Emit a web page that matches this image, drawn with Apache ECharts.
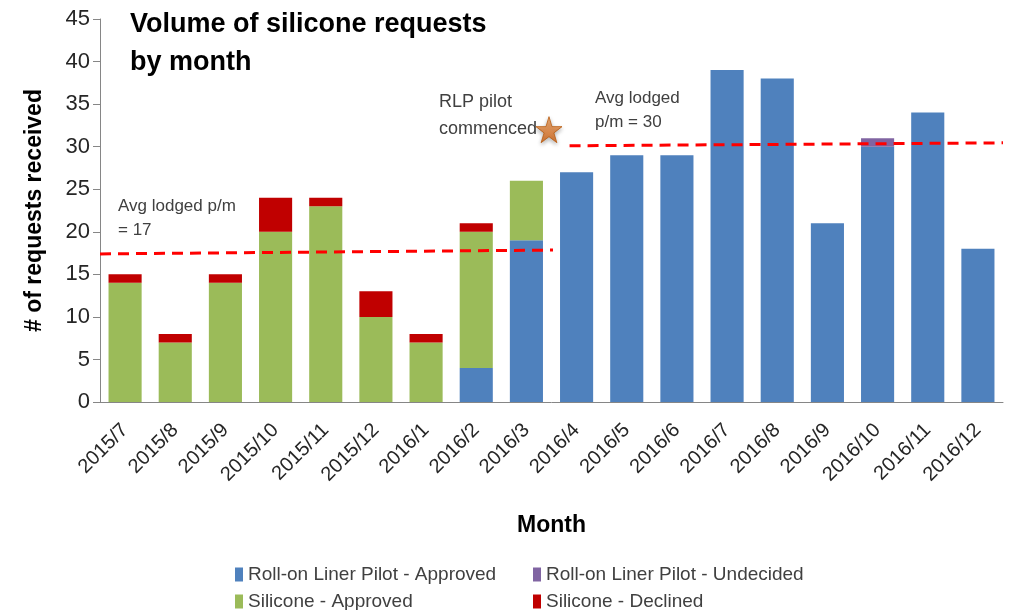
<!DOCTYPE html>
<html>
<head>
<meta charset="utf-8">
<script src="https://cdn.jsdelivr.net/npm/echarts@6/dist/echarts.min.js"></script>
<style>
  html, body { margin: 0; padding: 0; background: #fff; }
  #chart { width: 1009px; height: 610px; }
</style>
</head>
<body>
<div id="chart"></div>
<script>
// 数据
var months = ['2015/7', '2015/8', '2015/9', '2015/10', '2015/11', '2015/12', '2016/1', '2016/2', '2016/3',
    '2016/4', '2016/5', '2016/6', '2016/7', '2016/8', '2016/9', '2016/10', '2016/11', '2016/12'];
var rlpApproved = [0, 0, 0, 0, 0, 0, 0, 4, 19, 27, 29, 29, 39, 38, 21, 30, 34, 18];
var rlpUndecided = [0, 0, 0, 0, 0, 0, 0, 0, 0, 0, 0, 0, 0, 0, 0, 1, 0, 0];
var siliconeApproved = [14, 7, 14, 20, 23, 10, 7, 16, 7, 0, 0, 0, 0, 0, 0, 0, 0, 0];
var siliconeDeclined = [1, 1, 1, 4, 1, 3, 1, 1, 0, 0, 0, 0, 0, 0, 0, 0, 0, 0];
// 平均线 (x 以月份序号计)
var avgBefore = [[0, 17.4], [9.03, 17.85]];
var avgAfter = [[9.36, 30.1], [18, 30.45]];
var pilotStar = [[8.95, 32]];

(function () {
    var myChart = echarts.init(document.getElementById('chart'));
    var font = 'Liberation Sans, Arial, sans-serif';
    var starPath = 'path://M50,0 L61,35 L98,35 L68,57 L79,91 L50,70 L21,91 L32,57 L2,35 L39,35 Z';

    function legendItem(name, left, top) {
        return {
            data: [name],
            left: left,
            top: top,
            icon: 'rect',
            itemWidth: 8,
            itemHeight: 14,
            selectedMode: false,
            textStyle: { fontFamily: font, fontSize: 19, color: '#404040' }
        };
    }

    var option = {
        animation: false,
        color: ['#4F81BD', '#8064A2', '#9BBB59', '#C00000'],
        textStyle: { fontFamily: font },
        grid: {
            left: 100,
            right: 6,
            top: 19,
            bottom: 208
        },
        legend: [
            legendItem('Roll-on Liner Pilot - Approved', 230, 560),
            legendItem('Roll-on Liner Pilot - Undecided', 528, 560),
            legendItem('Silicone - Approved', 230, 587),
            legendItem('Silicone - Declined', 528, 587)
        ],
        xAxis: [
            {
                type: 'category',
                data: months,
                name: 'Month',
                nameLocation: 'middle',
                nameGap: 112,
                nameTextStyle: { fontFamily: font, fontSize: 23, fontWeight: 'bold', color: '#000' },
                axisLine: { lineStyle: { color: '#868686' } },
                axisTick: { length: 7, lineStyle: { color: '#868686' } },
                axisLabel: {
                    rotate: 45,
                    margin: 25,
                    fontFamily: font,
                    fontSize: 20,
                    color: '#262626'
                }
            },
            {
                // 辅助轴: 画平均线和星标
                type: 'value',
                min: 0,
                max: 18,
                show: false
            }
        ],
        yAxis: {
            type: 'value',
            min: 0,
            max: 45,
            interval: 5,
            name: '# of requests received',
            nameLocation: 'middle',
            nameGap: 54,
            nameTextStyle: { fontFamily: font, fontSize: 23, fontWeight: 'bold', color: '#000' },
            axisLine: { show: true, lineStyle: { color: '#868686' } },
            axisTick: { show: true, length: 7, lineStyle: { color: '#868686' } },
            splitLine: { show: false },
            axisLabel: { fontFamily: font, fontSize: 22, color: '#262626', margin: 10 }
        },
        graphic: [
            {
                type: 'text', left: 130, top: 6,
                style: {
                    text: 'Volume of silicone requests\nby month',
                    font: 'bold 27px ' + font,
                    lineHeight: 38,
                    fill: '#000'
                }
            },
            {
                type: 'text', left: 118, top: 194,
                style: { text: 'Avg lodged p/m\n= 17', font: '17px ' + font, lineHeight: 24, fill: '#404040' }
            },
            {
                type: 'text', right: 1009 - 537, top: 89,
                style: { text: 'RLP pilot\ncommenced', font: '18px ' + font, lineHeight: 27, fill: '#404040', align: 'right' }
            },
            {
                type: 'text', left: 595, top: 86,
                style: { text: 'Avg lodged\np/m = 30', font: '17px ' + font, lineHeight: 24, fill: '#404040' }
            }
        ],
        series: [
            {
                name: 'Roll-on Liner Pilot - Approved',
                type: 'bar',
                stack: 'total',
                barCategoryGap: '34%',
                data: rlpApproved
            },
            {
                name: 'Roll-on Liner Pilot - Undecided',
                type: 'bar',
                stack: 'total',
                data: rlpUndecided
            },
            {
                name: 'Silicone - Approved',
                type: 'bar',
                stack: 'total',
                data: siliconeApproved
            },
            {
                name: 'Silicone - Declined',
                type: 'bar',
                stack: 'total',
                data: siliconeDeclined
            },
            {
                name: 'avg1',
                type: 'line',
                xAxisIndex: 1,
                data: avgBefore,
                symbol: 'none',
                lineStyle: { color: '#FF0000', width: 3, type: [11, 7] },
                z: 5
            },
            {
                name: 'avg2',
                type: 'line',
                xAxisIndex: 1,
                data: avgAfter,
                symbol: 'none',
                lineStyle: { color: '#FF0000', width: 3, type: [11, 7] },
                z: 5
            },
            {
                name: 'pilot',
                type: 'scatter',
                xAxisIndex: 1,
                data: pilotStar,
                symbol: starPath,
                symbolSize: 26,
                itemStyle: {
                    color: new echarts.graphic.LinearGradient(0, 0, 0, 1, [
                        { offset: 0, color: '#F8A55E' },
                        { offset: 1, color: '#D2600F' }
                    ]),
                    borderColor: '#B85A0E',
                    borderWidth: 1,
                    shadowBlur: 4,
                    shadowOffsetY: 2,
                    shadowColor: 'rgba(0,0,0,0.35)'
                },
                z: 6
            }
        ]
    };
    myChart.setOption(option);
})();
</script>
</body>
</html>
